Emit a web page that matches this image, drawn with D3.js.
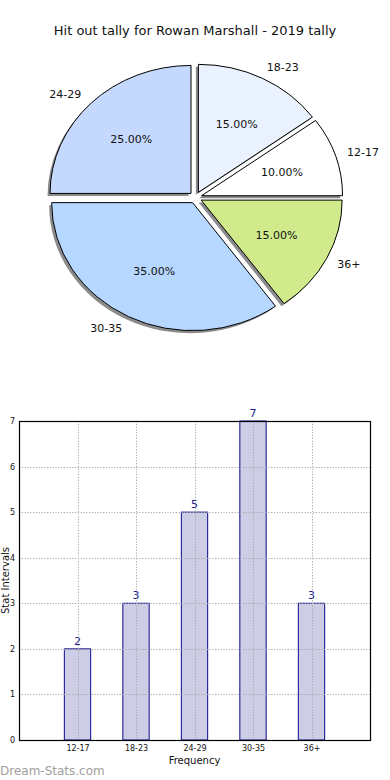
<!DOCTYPE html>
<html>
<head>
<meta charset="utf-8">
<script src="https://cdn.jsdelivr.net/npm/d3@7"></script>
<style>
  body { margin: 0; background: #fff; }
  svg { display: block; font-family: "DejaVu Sans", sans-serif; }
</style>
</head>
<body>
<svg id="canvas"></svg>
<script>
let categories = ["12-17", "18-23", "24-29", "30-35", "36+"]
let counts = [2, 3, 5, 7, 3]
let pieColors = ["#ffffff", "#eaf1ff", "#c5d8fe", "#b6d7ff", "#d0ea8c"]
let yTicks = [0, 1, 2, 3, 4, 5, 6, 7]

let width = 390
let height = 780

let svg = d3.select("#canvas")
svg.attr("width", width).attr("height", height)

// title
svg.append("text")
    .attr("x", 195)
    .attr("y", 35)
    .attr("text-anchor", "middle")
    .attr("font-size", 13)
    .attr("fill", "#111")
    .text("Hit out tally for Rowan Marshall - 2019 tally")

// ---- pie (elliptical like an unequal-aspect matplotlib pie)
let cx = 195.5
let cy = 197.5
let rx = 141
let ry = 128
let explode = 0.045

let total = d3.sum(counts)
// matplotlib: starts at 0 deg, counterclockwise
let pie = d3.pie().sort(null).value(d => d)
    .startAngle(Math.PI / 2).endAngle(Math.PI / 2 - 2 * Math.PI)
let arcs = pie(counts)

// unit arc, stretched later
let arc = d3.arc().innerRadius(0).outerRadius(1)

let pieG = svg.append("g")

let midAngle = d => (d.startAngle + d.endAngle) / 2 // d3 angle: 0 at 12 o'clock, clockwise

let offset = (d, k) => {
    let a = midAngle(d)
    return [cx + k * rx * Math.sin(a), cy - k * ry * Math.cos(a)]
}

// shadows
pieG.selectAll("path.shadow")
    .data(arcs)
    .enter()
    .append("path")
    .attr("class", "shadow")
    .attr("transform", d => {
        let p = offset(d, explode)
        return "translate(" + (p[0] - 2.5) + "," + (p[1] + 2.5) + ") scale(" + rx + "," + ry + ")"
    })
    .attr("d", arc)
    .attr("fill", "#6e6e6e")
    .attr("opacity", 0.8)

pieG.selectAll("path.slice")
    .data(arcs)
    .enter()
    .append("path")
    .attr("class", "slice")
    .attr("transform", d => {
        let p = offset(d, explode)
        return "translate(" + p[0] + "," + p[1] + ") scale(" + rx + "," + ry + ")"
    })
    .attr("d", arc)
    .attr("fill", (d, i) => pieColors[i])
    .attr("stroke", "#000")
    .attr("stroke-width", 1)
    .attr("vector-effect", "non-scaling-stroke")

// category labels
pieG.selectAll("text.lab")
    .data(arcs)
    .enter()
    .append("text")
    .attr("class", "lab")
    .attr("x", d => offset(d, explode + 1.1)[0] + (Math.sin(midAngle(d)) >= 0 ? -2 : 0))
    .attr("y", d => offset(d, explode + 1.1)[1])
    .attr("dy", "0.35em")
    .attr("text-anchor", d => Math.sin(midAngle(d)) >= 0 ? "start" : "end")
    .attr("font-size", 11)
    .attr("fill", "#111")
    .text((d, i) => categories[i])

// percent labels
pieG.selectAll("text.pct")
    .data(arcs)
    .enter()
    .append("text")
    .attr("class", "pct")
    .attr("x", d => offset(d, explode + 0.6)[0])
    .attr("y", d => offset(d, explode + 0.6)[1])
    .attr("dy", "0.35em")
    .attr("text-anchor", "middle")
    .attr("font-size", 11)
    .attr("fill", "#111")
    .text(d => (d.value / total * 100).toFixed(2) + "%")

// ---- bar chart
let plotLeft = 19
let plotRight = 370
let plotTop = 421
let plotBottom = 740

let xScale = d3.scaleLinear().domain([-1, 5]).range([plotLeft, plotRight])
let yScale = d3.scaleLinear().domain([0, 7]).range([plotBottom, plotTop])
let barW = xScale(0.45) - xScale(0)

let barG = svg.append("g")

barG.selectAll("rect.bar")
    .data(counts)
    .enter()
    .append("rect")
    .attr("class", "bar")
    .attr("x", (d, i) => xScale(i) - barW / 2)
    .attr("y", d => yScale(d))
    .attr("width", barW)
    .attr("height", d => yScale(0) - yScale(d))
    .attr("fill", "#cdcde6")
    .attr("stroke", "#0a0a8a")
    .attr("stroke-width", 1)

// grid
let grid = svg.append("g")
grid.selectAll("line.gy")
    .data(yTicks)
    .enter()
    .append("line")
    .attr("x1", plotLeft).attr("x2", plotRight)
    .attr("y1", d => Math.round(yScale(d)) + 0.5)
    .attr("y2", d => Math.round(yScale(d)) + 0.5)
    .attr("stroke", "#a8a8a8")
    .attr("stroke-dasharray", "1.2,1.6")
grid.selectAll("line.gx")
    .data(categories)
    .enter()
    .append("line")
    .attr("y1", plotTop).attr("y2", plotBottom)
    .attr("x1", (d, i) => Math.round(xScale(i)) + 0.5)
    .attr("x2", (d, i) => Math.round(xScale(i)) + 0.5)
    .attr("stroke", "#a8a8a8")
    .attr("stroke-dasharray", "1.2,1.6")

// axes
let yAxis = d3.axisLeft(yScale).tickValues(yTicks).tickSize(0).tickPadding(4).tickFormat(d3.format("d"))
svg.append("g")
    .attr("transform", "translate(" + plotLeft + ",0)")
    .call(yAxis)
    .call(g => g.select(".domain").remove())
    .selectAll("text")
    .attr("font-size", 8)
    .attr("font-family", "DejaVu Sans")
    .attr("fill", "#111")

let xAxis = d3.axisBottom(xScale).tickValues([0, 1, 2, 3, 4]).tickSize(0).tickPadding(5)
    .tickFormat(i => categories[i])
svg.append("g")
    .attr("transform", "translate(0," + plotBottom + ")")
    .call(xAxis)
    .call(g => g.select(".domain").remove())
    .selectAll("text")
    .attr("font-size", 8)
    .attr("font-family", "DejaVu Sans")
    .attr("fill", "#111")

svg.append("rect")
    .attr("x", plotLeft + 0.5)
    .attr("y", plotTop + 0.5)
    .attr("width", plotRight - plotLeft)
    .attr("height", plotBottom - plotTop)
    .attr("fill", "none")
    .attr("stroke", "#000")
    .attr("stroke-width", 1.2)

// value labels
barG.selectAll("text.val")
    .data(counts)
    .enter()
    .append("text")
    .attr("x", (d, i) => xScale(i))
    .attr("y", d => yScale(d) - 4)
    .attr("text-anchor", "middle")
    .attr("font-size", 11)
    .attr("fill", "#1a1a8c")
    .text(d => d)

svg.append("text")
    .attr("x", xScale(2))
    .attr("y", 764)
    .attr("text-anchor", "middle")
    .attr("font-size", 10)
    .attr("fill", "#111")
    .text("Frequency")

svg.append("text")
    .attr("transform", "translate(9," + yScale(3.5) + ") rotate(-90)")
    .attr("text-anchor", "middle")
    .attr("font-size", 10)
    .attr("fill", "#111")
    .text("Stat Intervals")

svg.append("text")
    .attr("x", 0)
    .attr("y", 775)
    .attr("font-size", 12)
    .attr("fill", "#a0a0a0")
    .text("Dream-Stats.com")
</script>
</body>
</html>
